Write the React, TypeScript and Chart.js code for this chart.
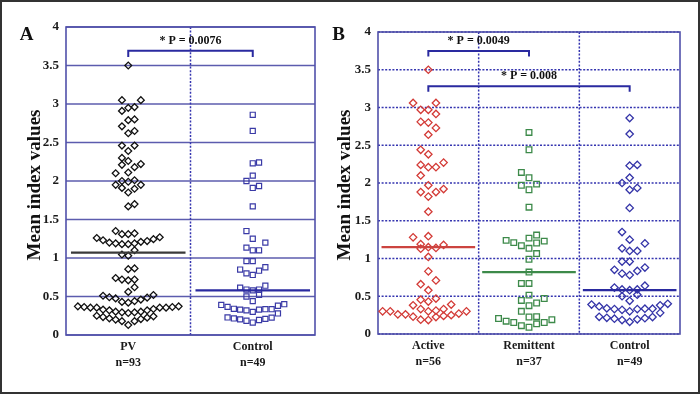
import React, { useEffect, useRef } from 'react';
import { Chart, registerables } from 'chart.js';

Chart.register(...registerables);

const FONT = "'Liberation Serif', 'Times New Roman', Times, serif";

// ---------- Panel A ----------
const catsA = ['PV', 'Control'];
const nA = ['n=93', 'n=49'];

// ---------- Panel B ----------
const catsB = ['Active', 'Remittent', 'Control'];
const nB = ['n=56', 'n=37', 'n=49'];

// PV (values, beeswarm slot offsets)
const pvValues = [
  3.5, 3.05, 3.05, 2.91, 2.95, 2.96, 2.79, 2.8, 2.71, 2.62, 2.65, 2.46, 2.46, 2.39,
  2.3, 2.26, 2.21, 2.22, 2.18, 2.1, 2.11, 2.0, 1.99, 2.01, 1.95, 1.91, 1.9, 1.95, 1.85,
  1.67, 1.7,
  1.35, 1.31, 1.31, 1.32,
  1.26, 1.23, 1.2, 1.19, 1.18, 1.18, 1.19, 1.21, 1.22, 1.245, 1.27,
  1.1, 1.045, 1.03,
  0.855, 0.865,
  0.74, 0.72, 0.71, 0.72,
  0.62, 0.56,
  0.51, 0.49, 0.475, 0.43, 0.42, 0.44, 0.46, 0.485, 0.52,
  0.372, 0.363, 0.355, 0.355, 0.33, 0.32, 0.303, 0.294, 0.285, 0.294, 0.303, 0.32, 0.337, 0.355, 0.355, 0.363, 0.372,
  0.25, 0.233, 0.216, 0.2, 0.18, 0.13, 0.18, 0.207, 0.225, 0.242,
];
const pvSlots = [
  0, -1, 2, -1, 0, 1, 0, 1, -1, 0, 1, -1, 1, 0,
  -1, 0, -1, 2, 1, -2, 0, -1, 0, 1, -2, -1, 1, 2, 0,
  0, 1,
  -2, -1, 0, 1,
  -5, -4, -3, -2, -1, 0, 1, 2, 3, 4, 5,
  1, -1, 0,
  0, 1,
  -2, -1, 0, 1,
  1, 0,
  -4, -3, -2, -1, 0, 1, 2, 3, 4,
  -8, -7, -6, -5, -4, -3, -2, -1, 0, 1, 2, 3, 4, 5, 6, 7, 8,
  -5, -4, -3, -2, -1, 0, 1, 2, 3, 4,
];

// Control (same subjects in both panels)
const controlValues = [
  2.86, 2.65, 2.23, 2.24, 2.07, 2.0, 1.91, 1.935, 1.67,
  1.35, 1.25, 1.2, 1.135, 1.1, 1.1, 0.96, 0.96,
  0.85, 0.8, 0.78, 0.835, 0.88,
  0.615, 0.59, 0.58, 0.59, 0.64,
  0.5, 0.52, 0.44,
  0.39, 0.365, 0.34, 0.33, 0.32, 0.3, 0.33, 0.335, 0.335, 0.38, 0.4,
  0.228, 0.215, 0.203, 0.185, 0.162, 0.195, 0.21, 0.225, 0.28,
];
const controlSlots = [
  0, 0, 0, 1, 0, -1, 0, 1, 0,
  -1, 0, 2, -1, 0, 1, -1, 0,
  -2, -1, 0, 1, 2,
  -2, -1, 0, 1, 2,
  -1, 1, 0,
  -5, -4, -3, -2, -1, 0, 1, 2, 3, 4, 5,
  -4, -3, -2, -1, 0, 1, 2, 3, 4,
];

// Active
const activeValues = [
  3.5, 3.06, 3.06, 2.97, 2.97, 2.915, 2.81, 2.8, 2.73, 2.64, 2.44, 2.38, 2.24, 2.21, 2.21, 2.27, 2.1, 1.97, 1.88, 1.88, 1.92, 1.82,
  1.62, 1.28, 1.295, 1.19, 1.13, 1.15, 1.14, 1.18, 1.02, 0.83, 0.66, 0.71, 0.58, 0.455, 0.43, 0.47, 0.38, 0.39, 0.33, 0.3, 0.31, 0.33,
  0.3, 0.3, 0.26, 0.26, 0.23, 0.19, 0.185, 0.225, 0.24, 0.25, 0.27, 0.3,
];
const activeSlots = [
  0, -2, 1, -1, 0, 1, -1, 0, 1, 0, -1, 0, -1, 0, 1, 2, -1, 0, -1, 1, 2, 0,
  0, -2, 0, -1, -1, 0, 1, 2, 0, 0, -1, 1, 0, -1, 0, 1, -2, 3, -1, 0, 1, 2,
  -6, -5, -4, -3, -2, -1, 0, 1, 2, 3, 4, 5,
];

// Remittent
const remittentValues = [
  2.67, 2.44, 2.14, 2.07, 1.97, 1.91, 1.985, 1.68,
  1.24, 1.21, 1.17, 1.27, 1.31, 1.205, 1.23, 1.135, 1.065,
  0.99, 0.82, 0.67, 0.67,
  0.515, 0.445, 0.375, 0.41, 0.47, 0.3,
  0.205, 0.17, 0.153, 0.11, 0.09, 0.135, 0.153, 0.19, 0.225, 0.23,
];
const remittentSlots = [
  0, 0, -1, 0, -1, 0, 1, 0,
  -3, -2, -1, 0, 1, 1, 2, 0, 1,
  0, 0, -1, 0,
  0, -1, 0, 1, 2, -1,
  -4, -3, -2, -1, 0, 1, 2, 3, 0, 1,
];

const mediansA = [1.07, 0.58];
const mediansB = [1.15, 0.82, 0.58];

const pValuesA = [{ from: 1, to: 2, level: 3.69, drop: 0.08, label: '* P = 0.0076' }];
const pValuesB = [
  { from: 1, to: 2, level: 3.75, drop: 0.075, label: '* P = 0.0049' },
  { from: 1, to: 3, level: 3.28, drop: 0.07, label: '* P = 0.008' },
];

const BLUE = '#3a3aa6';
const BRACKET = '#2a2aa0';

type Group = {
  values: number[];
  slots: number[];
  color: string;
  style: string;
  radius: number;
  bw: number;
  median: number;
  medianColor: string;
};

type PanelCfg = {
  cats: string[];
  ns: string[];
  groups: Group[];
  pvals: { from: number; to: number; level: number; drop: number; label: string }[];
  slotStep: number;
  medHalf: number;
  top: number;
  right: number;
  yWidth: number;
  xHeight: number;
  gridDash: number[];
  gridColor: string;
  letter: string;
  letterX: number;
  letterY: number;
  titleX: number;
  titleY: number;
};

function decor(p: PanelCfg) {
  return {
    id: 'decor',
    beforeDatasetsDraw(chart: any) {
      const { ctx, chartArea: a, scales } = chart;
      const xs = scales.x;
      const ys = scales.y;
      ctx.save();
      ctx.lineWidth = 1.5;
      ctx.strokeStyle = p.gridColor;
      ctx.setLineDash(p.gridDash);
      ys.ticks.forEach((t: any) => {
        const py = ys.getPixelForValue(t.value);
        ctx.beginPath();
        ctx.moveTo(a.left, py);
        ctx.lineTo(a.right, py);
        ctx.stroke();
      });
      ctx.strokeStyle = '#3535b0';
      ctx.setLineDash([2, 1.6]);
      for (let i = 1; i < p.cats.length; i++) {
        const px = xs.getPixelForValue(i + 0.5);
        ctx.beginPath();
        ctx.moveTo(px, a.top);
        ctx.lineTo(px, a.bottom);
        ctx.stroke();
      }
      ctx.setLineDash([]);
      ctx.strokeStyle = '#5050aa';
      ctx.lineWidth = 1.6;
      ctx.strokeRect(a.left, a.top, a.right - a.left, a.bottom - a.top);
      ctx.restore();
    },
    afterDraw(chart: any) {
      const { ctx, scales } = chart;
      const xs = scales.x;
      const ys = scales.y;
      ctx.save();
      ctx.fillStyle = '#111';
      ctx.textAlign = 'center';
      ctx.textBaseline = 'alphabetic';
      ctx.font = `bold 19px ${FONT}`;
      ctx.fillText(p.letter, p.letterX, p.letterY);
      ctx.save();
      ctx.translate(p.titleX, p.titleY);
      ctx.rotate(-Math.PI / 2);
      ctx.font = `bold 19px ${FONT}`;
      ctx.fillText('Mean index values', 0, 0);
      ctx.restore();
      ctx.font = `bold 12px ${FONT}`;
      ctx.textBaseline = 'middle';
      p.pvals.forEach((q) => {
        const x = (xs.getPixelForValue(q.from) + xs.getPixelForValue(q.to)) / 2;
        const y = ys.getPixelForValue(q.level) - 10;
        ctx.fillText(q.label, x, y);
      });
      ctx.restore();
    },
  };
}

function buildConfig(p: PanelCfg): any {
  const datasets: any[] = [];
  p.groups.forEach((g, i) => {
    const cat = i + 1;
    datasets.push({
      label: p.cats[i] + ' median',
      data: [
        { x: cat - p.medHalf, y: g.median },
        { x: cat + p.medHalf, y: g.median },
      ],
      showLine: true,
      pointRadius: 0,
      borderColor: g.medianColor,
      borderWidth: 2.2,
      order: 0,
    });
    datasets.push({
      label: p.cats[i],
      data: g.values.map((v, k) => ({ x: cat + g.slots[k] * p.slotStep, y: v })),
      showLine: false,
      pointStyle: g.style,
      pointRadius: g.radius,
      pointBorderWidth: g.bw,
      borderColor: g.color,
      pointBorderColor: g.color,
      backgroundColor: 'rgba(0,0,0,0)',
      pointBackgroundColor: 'rgba(0,0,0,0)',
      order: 1,
    });
  });
  p.pvals.forEach((q) => {
    datasets.push({
      label: q.label,
      data: [
        { x: q.from, y: q.level - q.drop },
        { x: q.from, y: q.level },
        { x: q.to, y: q.level },
        { x: q.to, y: q.level - q.drop },
      ],
      showLine: true,
      pointRadius: 0,
      borderColor: BRACKET,
      borderWidth: 2,
      order: 0,
    });
  });
  return {
    type: 'scatter',
    data: { datasets },
    options: {
      animation: false,
      responsive: true,
      maintainAspectRatio: false,
      events: [],
      layout: { padding: { left: 0, top: p.top, right: p.right, bottom: 0 } },
      plugins: { legend: { display: false }, tooltip: { enabled: false } },
      scales: {
        x: {
          type: 'linear',
          min: 0.5,
          max: p.cats.length + 0.5,
          grid: { display: false, drawTicks: false },
          border: { display: false },
          afterBuildTicks: (s: any) => {
            s.ticks = p.cats.map((_, i) => ({ value: i + 1 }));
          },
          afterFit: (s: any) => {
            s.height = p.xHeight;
          },
          ticks: {
            autoSkip: false,
            maxRotation: 0,
            minRotation: 0,
            padding: 4,
            color: '#1a1a1a',
            font: { family: FONT, weight: 'bold', size: 12, lineHeight: 1.33 },
            callback: (v: any) => {
              const i = Math.round(Number(v)) - 1;
              return [p.cats[i], p.ns[i]];
            },
          },
        },
        y: {
          type: 'linear',
          min: 0,
          max: 4,
          grid: { display: false, drawTicks: false },
          border: { display: false },
          afterFit: (s: any) => {
            s.width = p.yWidth;
          },
          ticks: {
            stepSize: 0.5,
            padding: 7,
            color: '#1a1a1a',
            font: { family: FONT, weight: 'bold', size: 13 },
            callback: (v: any) => String(v),
          },
        },
      },
    },
    plugins: [decor(p)],
  };
}

const panelA: PanelCfg = {
  cats: catsA,
  ns: nA,
  groups: [
    { values: pvValues, slots: pvSlots, color: '#111111', style: 'rectRot', radius: 3.4, bw: 1.3, median: mediansA[0], medianColor: '#3a3a3a' },
    { values: controlValues, slots: controlSlots, color: BLUE, style: 'rect', radius: 3.6, bw: 1.2, median: mediansA[1], medianColor: '#2a2aa0' },
  ],
  pvals: pValuesA,
  slotStep: 0.0506,
  medHalf: 0.46,
  top: 27,
  right: 15,
  yWidth: 66,
  xHeight: 59,
  gridDash: [],
  gridColor: '#5c5cae',
  letter: 'A',
  letterX: 26.5,
  letterY: 40,
  titleX: 39.5,
  titleY: 185,
};

const panelB: PanelCfg = {
  cats: catsB,
  ns: nB,
  groups: [
    { values: activeValues, slots: activeSlots, color: '#d33a36', style: 'rectRot', radius: 3.7, bw: 1.3, median: mediansB[0], medianColor: '#cc4440' },
    { values: remittentValues, slots: remittentSlots, color: '#3d8a4a', style: 'rect', radius: 4, bw: 1.3, median: mediansB[1], medianColor: '#3d8a4a' },
    { values: controlValues, slots: controlSlots, color: '#3434a8', style: 'rectRot', radius: 3.7, bw: 1.3, median: mediansB[2], medianColor: '#2a2aa0' },
  ],
  pvals: pValuesB,
  slotStep: 0.0757,
  medHalf: 0.465,
  top: 32,
  right: 20,
  yWidth: 48,
  xHeight: 60,
  gridDash: [2, 1.6],
  gridColor: '#3535b0',
  letter: 'B',
  letterX: 8.5,
  letterY: 40,
  titleX: 19.5,
  titleY: 185,
};

function Panel({ cfg, left, width }: { cfg: PanelCfg; left: number; width: number }) {
  const ref = useRef<HTMLCanvasElement>(null);
  useEffect(() => {
    const chart = new Chart(ref.current as HTMLCanvasElement, buildConfig(cfg));
    return () => chart.destroy();
  }, [cfg]);
  return (
    <div style={{ position: 'absolute', left, top: 0, width, height: 394 }}>
      <canvas ref={ref} />
    </div>
  );
}

export default function App() {
  return (
    <div style={{ position: 'absolute', left: 0, top: 0, width: 700, height: 394, background: '#fff', overflow: 'hidden' }}>
      <Panel cfg={panelA} left={0} width={330} />
      <Panel cfg={panelB} left={330} width={370} />
      <div
        style={{
          position: 'absolute',
          left: 0,
          top: 0,
          width: 700,
          height: 394,
          boxSizing: 'border-box',
          border: '2px solid #333',
          pointerEvents: 'none',
        }}
      />
    </div>
  );
}
